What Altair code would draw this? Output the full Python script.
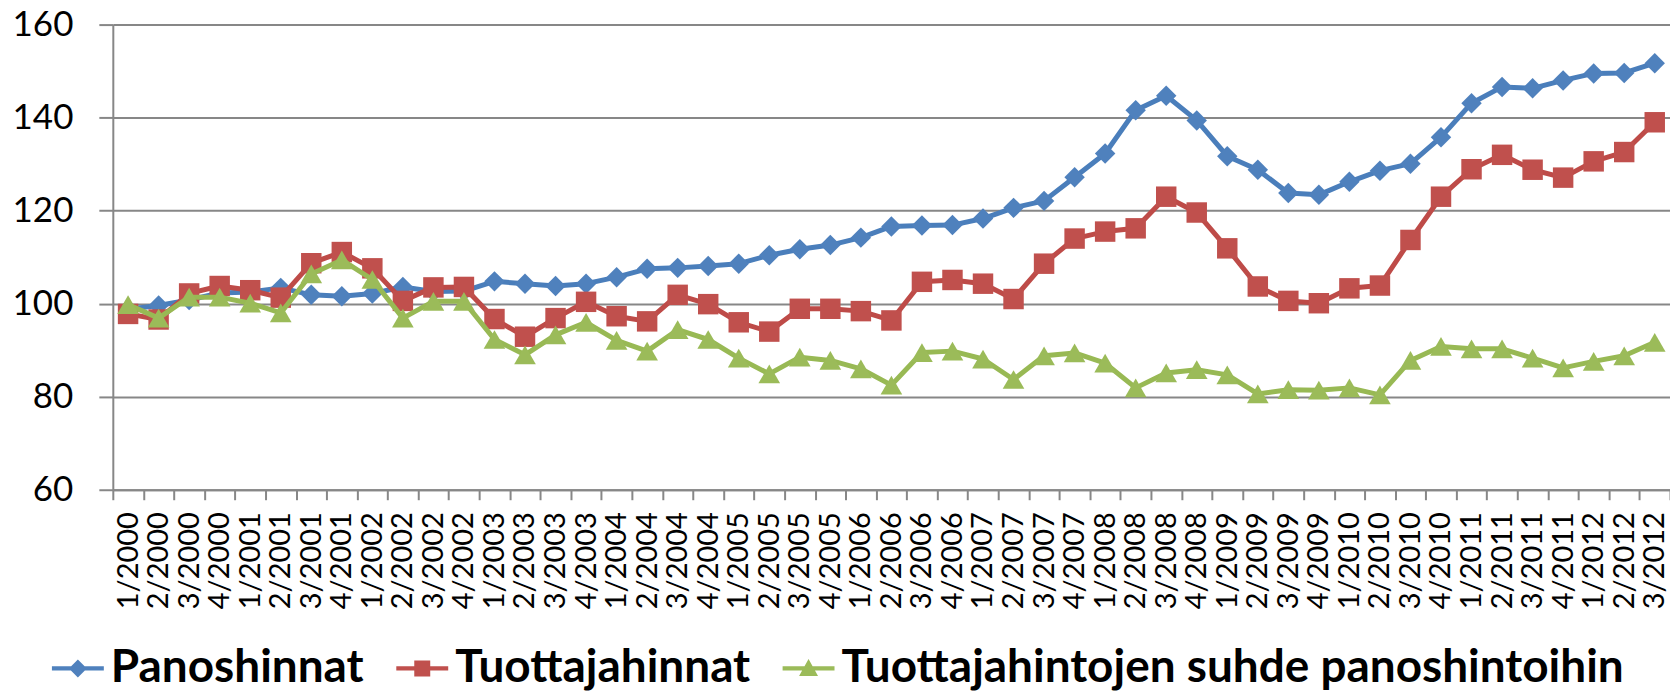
import json
import altair as alt
import pandas as pd

quarters = [
    "1/2000", "2/2000", "3/2000", "4/2000",
    "1/2001", "2/2001", "3/2001", "4/2001",
    "1/2002", "2/2002", "3/2002", "4/2002",
    "1/2003", "2/2003", "3/2003", "4/2003",
    "1/2004", "2/2004", "3/2004", "4/2004",
    "1/2005", "2/2005", "3/2005", "4/2005",
    "1/2006", "2/2006", "3/2006", "4/2006",
    "1/2007", "2/2007", "3/2007", "4/2007",
    "1/2008", "2/2008", "3/2008", "4/2008",
    "1/2009", "2/2009", "3/2009", "4/2009",
    "1/2010", "2/2010", "3/2010", "4/2010",
    "1/2011", "2/2011", "3/2011", "4/2011",
    "1/2012", "2/2012", "3/2012",
]

panoshinnat = [
    98.8, 99.6, 100.8, 102.3, 102.5, 103.4, 101.9, 101.6, 102.2, 103.6,
    102.6, 102.7, 104.8, 104.3, 103.8, 104.3, 105.7, 107.5, 107.7, 108.1,
    108.6, 110.4, 111.7, 112.6, 114.2, 116.6, 116.8, 116.9, 118.3, 120.6,
    122.1, 127.2, 132.3, 141.6, 144.7, 139.4, 131.7, 128.8, 123.8, 123.4,
    126.2, 128.6, 130.1, 135.8, 143.1, 146.6, 146.3, 148.0, 149.5, 149.6, 151.7,
]

tuottajahinnat = [
    97.8, 96.6, 102.2, 103.8, 102.9, 101.3, 108.7, 111.1, 107.6, 100.6,
    103.5, 103.6, 96.7, 92.9, 96.9, 100.4, 97.3, 96.2, 101.9, 99.9,
    96.0, 94.0, 98.9, 98.9, 98.4, 96.4, 104.7, 105.1, 104.3, 101.0,
    108.6, 114.0, 115.5, 116.2, 123.0, 119.6, 111.9, 103.7, 100.6, 100.1,
    103.3, 103.9, 113.7, 123.0, 128.9, 132.0, 128.8, 127.1, 130.6, 132.6, 139.0,
]

suhde = [
    99.8, 96.9, 101.4, 101.4, 100.1, 98.0, 106.4, 109.4, 105.2, 96.9,
    100.5, 100.5, 92.3, 89.0, 93.3, 96.0, 92.1, 89.8, 94.4, 92.3,
    88.3, 84.9, 88.5, 87.8, 86.0, 82.5, 89.5, 89.8, 88.1, 83.7,
    88.8, 89.4, 87.2, 81.9, 85.1, 85.8, 84.7, 80.6, 81.5, 81.4,
    81.9, 80.4, 87.8, 90.8, 90.3, 90.3, 88.3, 86.2, 87.6, 88.8, 91.7,
]

series_names = ["Panoshinnat", "Tuottajahinnat", "Tuottajahintojen suhde panoshintoihin"]
line_colors = ["#4A7EBB", "#BE4B48", "#98B954"]
marker_colors = ["#4F81BD", "#C0504D", "#9BBB59"]
marker_shapes = ["diamond", "square", "triangle-up"]
marker_sizes = [420, 420, 470]
legend_paths = [
    "M-2.6,-0.22H2.6V0.22H-2.6Z M-0.9,0L0,-0.9L0.9,0L0,0.9Z",
    "M-2.6,-0.22H2.6V0.22H-2.6Z M-0.8,-0.8H0.8V0.8H-0.8Z",
    "M-2.6,-0.22H2.6V0.22H-2.6Z M0,-0.95L0.95,0.75H-0.95Z",
]

rows = []
for name, vals in zip(series_names, [panoshinnat, tuottajahinnat, suhde]):
    for i, (q, v) in enumerate(zip(quarters, vals)):
        rows.append({"series": name, "idx": i, "quarter": q, "value": v})
df = pd.DataFrame(rows)

GRAY = "#878787"
tick_positions = [k / 2 - 0.5 for k in range(2 * len(quarters) + 1)]
label_expr = "datum.value % 1 === 0 ? " + json.dumps(quarters) + "[datum.value] : ''"

x_enc = alt.X(
    "idx:Q",
    scale=alt.Scale(domain=[-0.5, len(quarters) - 0.5], nice=False, zero=False),
    axis=alt.Axis(
        values=tick_positions,
        labelExpr=label_expr,
        labelAngle=-90,
        labelFont="Lato",
        labelFontSize=29,
        labelColor="black",
        labelPadding=12,
        labelOverlap=False,
        labelFlush=False,
        tickSize=10,
        tickWidth=2,
        tickColor=GRAY,
        tickOpacity={"condition": {"test": "datum.value % 1 === 0", "value": 0}, "value": 1},
        domainColor=GRAY,
        domainWidth=2,
        grid=False,
        title=None,
    ),
)

y_enc = alt.Y(
    "value:Q",
    scale=alt.Scale(domain=[60, 160], nice=False, zero=False),
    axis=alt.Axis(
        values=[60, 80, 100, 120, 140, 160],
        labelFont="Lato",
        labelFontSize=35,
        labelColor="black",
        labelPadding=26,
        tickSize=14,
        tickWidth=2,
        tickColor=GRAY,
        domainColor=GRAY,
        domainWidth=2,
        grid=True,
        gridColor=GRAY,
        gridWidth=2,
        title=None,
    ),
)

base = alt.Chart(df).encode(x=x_enc, y=y_enc)

layers = []
for name, lc, mc, shp, sz in zip(series_names, line_colors, marker_colors, marker_shapes, marker_sizes):
    sub = base.transform_filter(alt.datum.series == name)
    layers.append(sub.mark_line(color=lc, strokeWidth=5, strokeJoin="round"))
    layers.append(sub.mark_point(shape=shp, filled=True, size=sz, color=mc, opacity=1, strokeWidth=0))

legend_def = alt.Legend(
    orient="none",
    legendX=-58,
    legendY=622,
    direction="horizontal",
    title=None,
    labelFont="Lato",
    labelFontWeight="bold",
    labelFontSize=46,
    labelColor="black",
    labelLimit=2000,
    labelOffset=10,
    symbolSize=400,
    symbolStrokeWidth=0,
    symbolOpacity=1,
    columnPadding=32,
    padding=0,
)

legend_layer = (
    alt.Chart(df)
    .transform_filter("false")
    .mark_point(filled=True)
    .encode(
        x=x_enc,
        y=y_enc,
        color=alt.Color("series:N", scale=alt.Scale(domain=series_names, range=marker_colors), legend=legend_def),
        shape=alt.Shape("series:N", scale=alt.Scale(domain=series_names, range=legend_paths), legend=legend_def),
    )
)

chart = (
    alt.layer(*layers, legend_layer)
    .properties(
        width=1560,
        height=466,
        autosize=alt.AutoSizeParams(type="none"),
        padding={"left": 105, "top": 16, "right": 0, "bottom": 202},
        background="white",
    )
    .configure_view(strokeWidth=0)
)

chart.save("out.html", embed_options={"renderer": "svg", "actions": False})
